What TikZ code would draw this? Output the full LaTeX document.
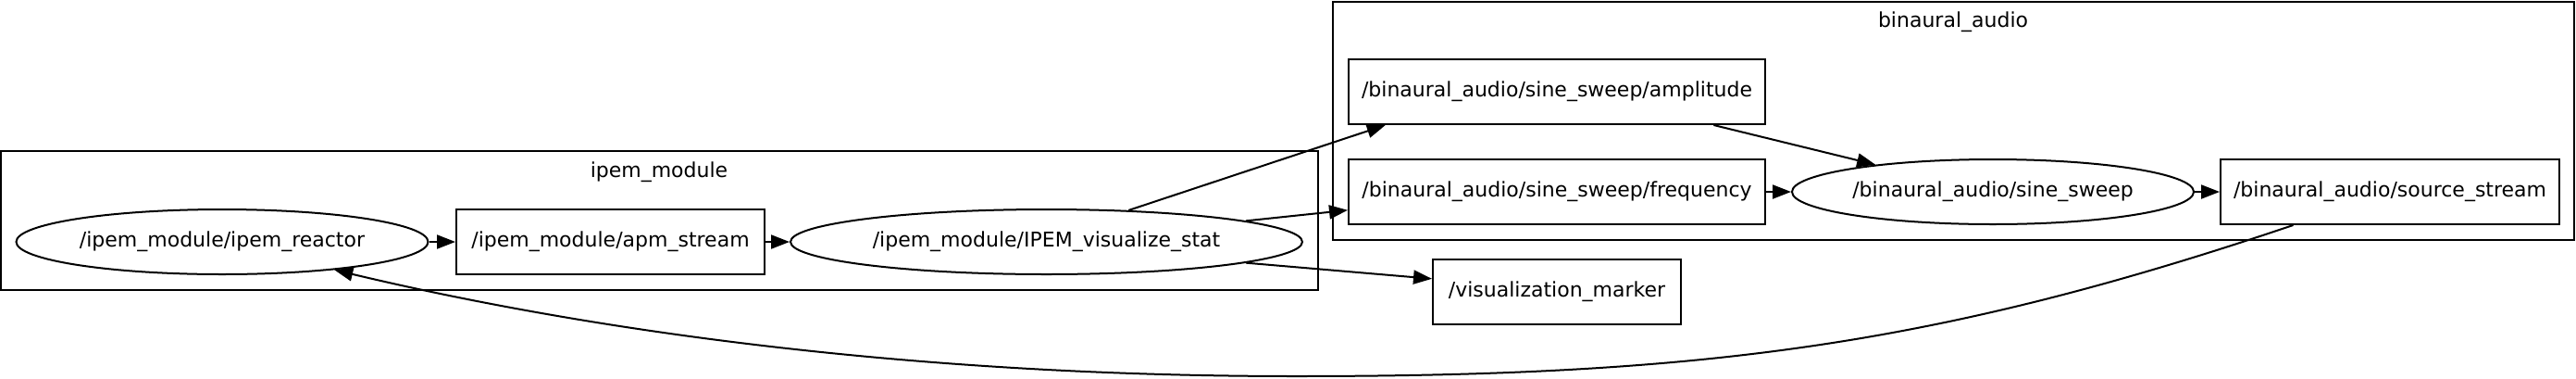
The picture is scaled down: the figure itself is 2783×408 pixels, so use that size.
\documentclass[tikz,border=0pt]{standalone}
\usepackage{fontspec}
\setmainfont{DejaVu Sans}
\usetikzlibrary{shapes.geometric,arrows.meta}

\begin{document}
\begin{tikzpicture}[x=0.5pt,y=-0.5pt,
    topic/.style={draw,line width=1pt,rectangle,minimum height=35pt,inner sep=0pt,font=\fontsize{11pt}{13pt}\selectfont},
    rosnode/.style={draw,line width=1pt,ellipse,minimum height=35pt,inner sep=0pt,font=\fontsize{11pt}{13pt}\selectfont},
    cluster/.style={draw,line width=1.1pt},
    grouplabel/.style={font=\fontsize{11pt}{13pt}\selectfont},
    edge/.style={-{Triangle[length=10pt,width=7.5pt]},line width=1pt}]
                \useasboundingbox (0,0) rectangle (2783,408);

                % Namespaces
                \draw[cluster] (1,163) rectangle (1424,313);
                \node[grouplabel] (ipemlabel) at (712,186) {ipem\_module};
                \draw[cluster] (1440,2) rectangle (2781,259);
                \node[grouplabel] (audiolabel) at (2110,24) {binaural\_audio};

                % ipem_module
                \node[rosnode,minimum width=222.5pt] (reactor) at (240,261) {/ipem\_module/ipem\_reactor};
                \node[topic,minimum width=166.5pt] (apm) at (659.5,261) {/ipem\_module/apm\_stream};
                \node[rosnode,minimum width=276.5pt] (vis) at (1130.5,261) {/ipem\_module/IPEM\_visualize\_stat};

                % binaural_audio
                \node[topic,minimum width=225pt] (amp) at (1682,99) {/binaural\_audio/sine\_sweep/amplitude};
                \node[topic,minimum width=225pt] (freq) at (1682,207) {/binaural\_audio/sine\_sweep/frequency};
                \node[rosnode,minimum width=217pt] (sine) at (2153,207) {/binaural\_audio/sine\_sweep};
                \node[topic,minimum width=183pt] (source) at (2582,207) {/binaural\_audio/source\_stream};

                % Outside
                \node[topic,minimum width=134pt] (marker) at (1682,315) {/visualization\_marker};

                % Edges
                \draw[edge] (reactor) -- (apm);
                \draw[edge] (apm) -- (vis);
                \draw[edge] (vis.21) -- (amp.191);
                \draw[edge] (vis.6) -- (freq.185);
                \draw[edge] (vis.354) -- (marker.174);
                \draw[edge] (amp.348) -- (sine.167);
                \draw[edge] (freq) -- (sine);
                \draw[edge] (sine) -- (source);
                \draw[edge] (source.199) .. controls (2100,370) and (1850,406) .. (1400,406)
                    .. controls (1000,406) and (650,360) .. (reactor.-14);
            \end{tikzpicture}
\end{document}
